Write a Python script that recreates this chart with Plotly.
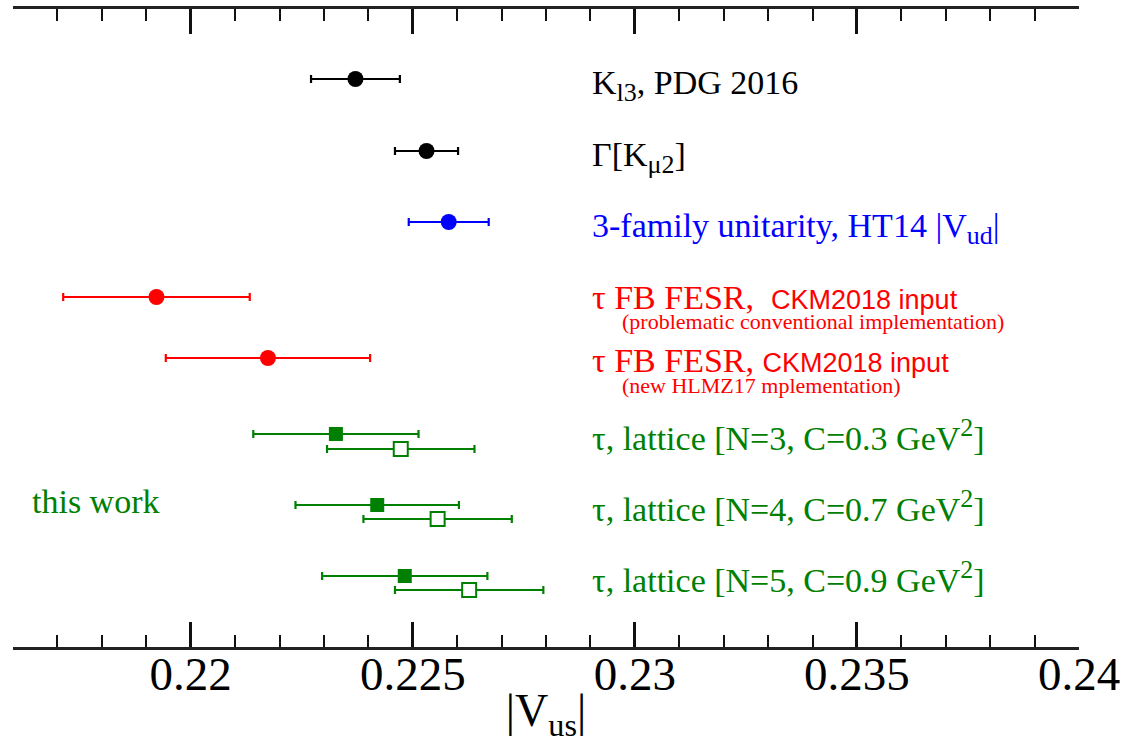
import plotly.graph_objects as go

# |V_us| determinations: central values and symmetric uncertainties
kl3_val, kl3_err = 0.22371, 0.00100
kmu2_val, kmu2_err = 0.22531, 0.00071
unitarity_val, unitarity_err = 0.22581, 0.00090
fesr_conv_val, fesr_conv_err = 0.21923, 0.00210
fesr_new_val, fesr_new_err = 0.22174, 0.00230

# lattice-weighted tau results for three (N, C) choices: filled and open symbols
lattice_filled = [0.22327, 0.22420, 0.22482]
lattice_filled_err = [0.00186, 0.00184, 0.00186]
lattice_open = [0.22473, 0.22556, 0.22627]
lattice_open_err = [0.00166, 0.00167, 0.00167]

tick_vals = [0.22, 0.225, 0.23, 0.235, 0.24]
tick_text = ["0.22", "0.225", "0.23", "0.235", "0.24"]

# vertical slots of the rows (plot-height units, top = 0)
row_pos = [70, 142, 213, 288, 349]
lattice_pos = [425, 496, 567]
lattice_open_pos = [440, 510, 581]

BLACK = "#000000"
BLUE = "#0000ff"
RED = "#ff0000"
GREEN = "#008000"
SERIF = "Liberation Serif"
SANS = "Liberation Sans"

fig = go.Figure()


def point(x, err, y, color, size, symbol="circle", hollow=False):
    fig.add_trace(go.Scatter(
        x=[x], y=[y], mode="markers",
        marker=dict(
            symbol=symbol, size=size,
            color="white" if hollow else color,
            line=dict(color=color, width=2 if hollow else 0),
        ),
        error_x=dict(type="data", array=[err], visible=True,
                     color=color, thickness=2.2, width=4),
        showlegend=False, hoverinfo="skip",
    ))


point(kl3_val, kl3_err, row_pos[0], BLACK, 16)
point(kmu2_val, kmu2_err, row_pos[1], BLACK, 16)
point(unitarity_val, unitarity_err, row_pos[2], BLUE, 16)
point(fesr_conv_val, fesr_conv_err, row_pos[3], RED, 16)
point(fesr_new_val, fesr_new_err, row_pos[4], RED, 16)
for v, e, y in zip(lattice_filled, lattice_filled_err, lattice_pos):
    point(v, e, y, GREEN, 14, "square")
for v, e, y in zip(lattice_open, lattice_open_err, lattice_open_pos):
    point(v, e, y, GREEN, 14, "square", hollow=True)

LABEL_X = 0.22900
SUB_X = 0.22966
LABEL_SIZE = 34
SUB_SIZE = 22


def sub(s):
    return "<sub><span style='font-size:26px'>" + s + "</span></sub>"


def sup(s):
    return "<sup><span style='font-size:26px'>" + s + "</span></sup>"


CKM = "<span style='font-family:" + SANS + ";font-size:27px'>CKM2018 input</span>"

labels = [
    ("K" + sub("l3") + ", PDG 2016", row_pos[0] + 6, BLACK),
    ("Γ[K" + sub("μ2") + "]", row_pos[1] + 6, BLACK),
    ("3-family unitarity, HT14 |V" + sub("ud") + "|", row_pos[2] + 6, BLUE),
    ("τ FB FESR,  " + CKM, row_pos[3], RED),
    ("τ FB FESR, " + CKM, row_pos[4] + 2, RED),
    ("τ, lattice [N=3, C=0.3 GeV" + sup("2") + "]", lattice_pos[0] + 1, GREEN),
    ("τ, lattice [N=4, C=0.7 GeV" + sup("2") + "]", lattice_pos[1] + 1, GREEN),
    ("τ, lattice [N=5, C=0.9 GeV" + sup("2") + "]", lattice_pos[2] + 1, GREEN),
]
for text, y, color in labels:
    fig.add_annotation(x=LABEL_X, y=y, xref="x", yref="y", text=text,
                       showarrow=False, xanchor="left", yanchor="middle",
                       font=dict(family=SERIF, size=LABEL_SIZE, color=color))

sublabels = [
    ("(problematic conventional implementation)", row_pos[3] + 24),
    ("(new HLMZ17 mplementation)", row_pos[4] + 27),
]
for text, y in sublabels:
    fig.add_annotation(x=SUB_X, y=y, xref="x", yref="y", text=text,
                       showarrow=False, xanchor="left", yanchor="middle",
                       font=dict(family=SERIF, size=SUB_SIZE, color=RED))

fig.add_annotation(x=0.21638, y=492, xref="x", yref="y", text="this work",
                   showarrow=False, xanchor="left", yanchor="middle",
                   font=dict(family=SERIF, size=LABEL_SIZE, color=GREEN))

fig.update_xaxes(
    range=[0.216, 0.24],
    tickvals=tick_vals, ticktext=tick_text,
    ticks="inside", ticklen=25, tickwidth=2.5, tickcolor="#111",
    minor=dict(dtick=0.001, tick0=0.216, ticks="inside", ticklen=12,
               tickwidth=2, tickcolor="#111"),
    showline=True, linewidth=3, linecolor="#222", mirror="ticks",
    showgrid=False, zeroline=False, automargin=False,
    ticklabelstandoff=-16,
    tickfont=dict(family=SERIF, size=47, color=BLACK),
    title=dict(text="|V<sub>us</sub>|",
               font=dict(family=SERIF, size=46, color=BLACK), standoff=0),
)
fig.update_yaxes(range=[638, 0], visible=False, showgrid=False,
                 zeroline=False, automargin=False)

fig.update_layout(
    width=1128, height=743,
    margin=dict(l=13, r=49, t=9, b=96, autoexpand=False),
    plot_bgcolor="white", paper_bgcolor="white",
)

fig.write_html("out.html")
